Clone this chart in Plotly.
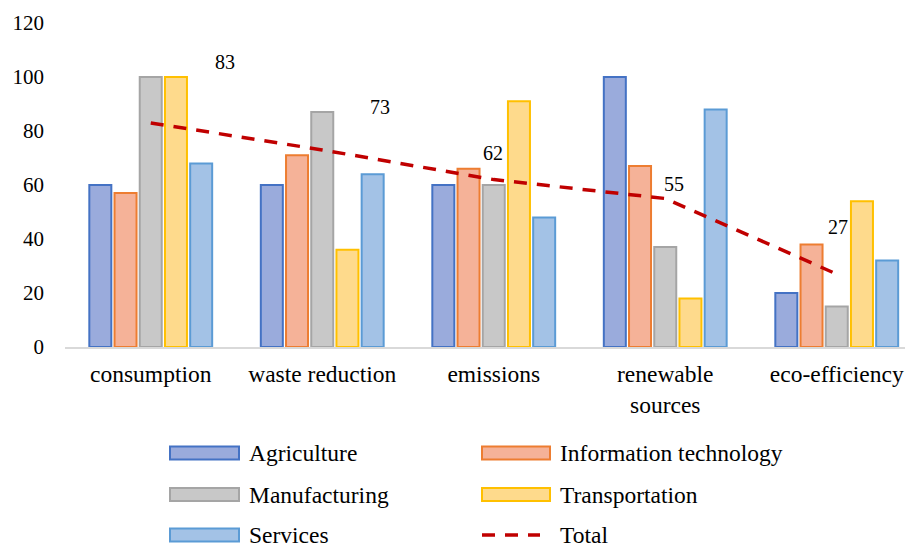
import plotly.graph_objects as go

# Indicator categories on the x axis
categories = ["consumption", "waste reduction", "emissions", "renewable<br>sources", "eco-efficiency"]

# Sector scores per category
agriculture = [60, 60, 60, 100, 20]
information_technology = [57, 71, 66, 67, 38]
manufacturing = [100, 87, 60, 37, 15]
transportation = [100, 36, 91, 18, 54]
services = [68, 64, 48, 88, 32]

# Overall score per category
total = [83, 73, 62, 55, 27]

y_ticks = [0, 20, 40, 60, 80, 100, 120]

FONT = "Liberation Serif"

sector_series = [
    ("Agriculture", agriculture, "#9AABDC", "#4472C4"),
    ("Information technology", information_technology, "#F5B298", "#ED7D31"),
    ("Manufacturing", manufacturing, "#C8C8C8", "#A5A5A5"),
    ("Transportation", transportation, "#FEDA8C", "#FFC000"),
    ("Services", services, "#A3C2E6", "#5B9BD5"),
]
total_color = "#C00000"
total_dash = "13px,10px"

fig = go.Figure()
for name, values, fill, edge in sector_series:
    fig.add_trace(go.Bar(
        name=name, x=categories, y=values,
        marker=dict(color=fill, line=dict(color=edge, width=2)),
        showlegend=False,
    ))

fig.add_trace(go.Scatter(
    name="Total", x=categories, y=total, mode="lines",
    line=dict(color=total_color, width=3.5, dash=total_dash),
    showlegend=False,
))

# Value labels for the total line (pixel offsets from each point)
label_offsets = [(74, 61), (58, 43), (-1, 27), (9, 15), (1, 47)]
for cat, val, (dx, dy) in zip(categories, total, label_offsets):
    fig.add_annotation(
        x=cat, y=val, text=str(val), showarrow=False,
        xshift=dx, yshift=dy, font=dict(family=FONT, size=20, color="black"),
    )

# Plot-area geometry (pixels) used to place the legend below the chart
W, H = 909, 545
L, R, T, B = 65, 4, 23, 198
pw, ph = W - L - R, H - T - B


def px(x):
    return (x - L) / pw


def py(y):
    return (H - B - y) / ph


legend_entries = [(s[0], "bar", s[2], s[3]) for s in sector_series] + [("Total", "line", None, total_color)]
col_x = [(170, 239, 247), (482, 550, 558)]
row_y = [453, 494.5, 535]
for i, (name, kind, fill, edge) in enumerate(legend_entries):
    x0, x1, xt = col_x[i % 2]
    yc = row_y[i // 2]
    if kind == "bar":
        fig.add_shape(type="rect", xref="paper", yref="paper",
                      x0=px(x0), x1=px(x1), y0=py(yc + 6.5), y1=py(yc - 6.5),
                      fillcolor=fill, line=dict(color=edge, width=2))
    else:
        fig.add_shape(type="line", xref="paper", yref="paper",
                      x0=px(x0), x1=px(x1 - 10), y0=py(yc), y1=py(yc),
                      line=dict(color=edge, width=3.5, dash=total_dash))
    fig.add_annotation(x=px(xt), y=py(yc), xref="paper", yref="paper",
                       text=name, showarrow=False, xanchor="left", yanchor="middle",
                       font=dict(family=FONT, size=23.5, color="black"))

fig.update_layout(
    width=W, height=H,
    margin=dict(l=L, r=R, t=T, b=B),
    paper_bgcolor="white", plot_bgcolor="white",
    barmode="group", bargap=0.265, bargroupgap=0.127,
    font=dict(family=FONT, color="black"),
)
fig.update_xaxes(
    range=[-0.5, 4.398], showline=True, linecolor="#D9D9D9", linewidth=2,
    showgrid=False, ticks="", tickfont=dict(size=23.5, family=FONT),
    ticklabelstandoff=5,
)
fig.update_yaxes(
    range=[0, 120], tickvals=y_ticks, showgrid=False, zeroline=False,
    showline=False, ticks="", tickfont=dict(size=21, family=FONT),
    ticklabelstandoff=20,
)

fig.write_html("out.html")
